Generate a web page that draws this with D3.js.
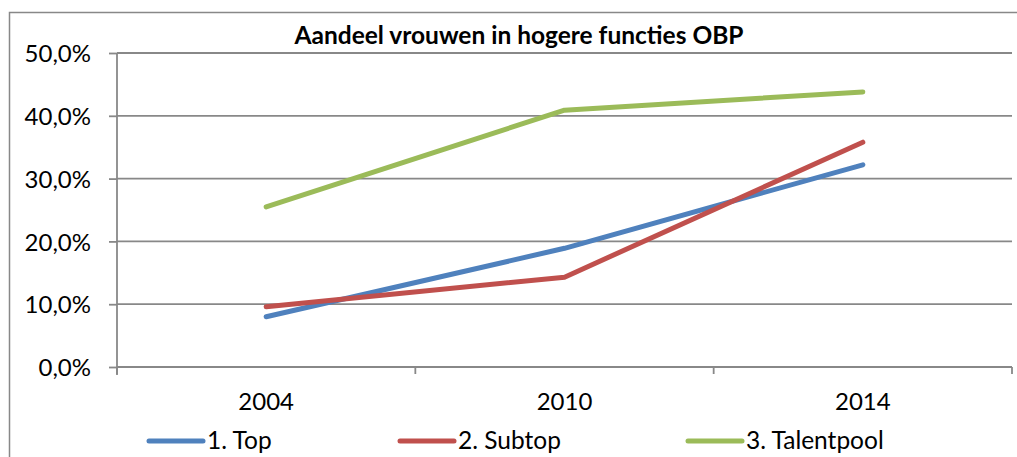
<!DOCTYPE html>
<html>
<head>
<meta charset="utf-8">
<script src="https://cdn.jsdelivr.net/npm/d3@7"></script>
<style>
  body { margin: 0; background: #fff; }
  svg text { font-family: Lato, "Open Sans", sans-serif; fill: #000; }
</style>
</head>
<body>
<svg id="chart" width="1017" height="457"></svg>
<script>
// Chart data
const years = ['2004', '2010', '2014'];
const seriesNames = ['1. Top', '2. Subtop', '3. Talentpool'];
const top1 = [8.0, 18.9, 32.2];
const subtop = [9.6, 14.3, 35.8];
const talentpool = [25.5, 40.9, 43.8];
const yTicks = [0, 10, 20, 30, 40, 50];
const colors = ['#4F81BD', '#C0504D', '#9BBB59'];

const series = [top1, subtop, talentpool].map((values, i) => ({
  name: seriesNames[i],
  color: colors[i],
  values: values.map((v, j) => ({ year: years[j], value: v })),
}));

const svg = d3.select('#chart');
const margin = { left: 117, right: 1012, top: 53, bottom: 367 };
const gridColor = '#888';

// outer chart border (runs past the photo on right and bottom)
svg.append('rect')
  .attr('x', 9.5).attr('y', 12.5)
  .attr('width', 1030).attr('height', 470)
  .attr('fill', 'none')
  .attr('stroke', gridColor)
  .attr('stroke-width', 1.5);

const x = d3.scaleBand().domain(years).range([margin.left, margin.right]);
const y = d3.scaleLinear().domain([0, 50]).range([margin.bottom, margin.top]);

// y axis
const yAxis = d3.axisLeft(y)
  .tickValues(yTicks)
  .tickSize(8)
  .tickFormat(d => d.toFixed(1).replace('.', ',') + '%');

const gy = svg.append('g')
  .attr('transform', `translate(${margin.left},0)`)
  .call(yAxis);
gy.select('.domain').attr('stroke', gridColor).attr('stroke-width', 1.8)
  .attr('d', `M0,${margin.top}V${margin.bottom + 8}`);
gy.selectAll('.tick line').attr('stroke', gridColor).attr('stroke-width', 1.8);
gy.selectAll('.tick text').attr('x', -26).attr('dy', '0.36em').attr('font-size', 24);

// gridlines
svg.append('g').selectAll('line')
  .data(yTicks.filter(d => d > 0))
  .join('line')
  .attr('x1', margin.left).attr('x2', margin.right)
  .attr('y1', d => y(d)).attr('y2', d => y(d))
  .attr('stroke', gridColor).attr('stroke-width', 1.8);

// x axis
const gx = svg.append('g')
  .attr('transform', `translate(0,${margin.bottom})`)
  .call(d3.axisBottom(x).tickSize(0));
gx.select('.domain').attr('stroke', gridColor).attr('stroke-width', 1.8)
  .attr('d', `M${margin.left},0H${margin.right}`);
gx.selectAll('.tick text').attr('dy', 0).attr('y', 43).attr('font-size', 24);

const bounds = years.map(d => x(d)).concat([margin.right]);
gx.selectAll('.boundary')
  .data(bounds)
  .join('line')
  .attr('x1', d => d).attr('x2', d => d)
  .attr('y1', 0).attr('y2', 7)
  .attr('stroke', gridColor).attr('stroke-width', 1.8);

// lines
const line = d3.line()
  .x(d => x(d.year) + x.bandwidth() / 2)
  .y(d => y(d.value));

svg.append('g').selectAll('path')
  .data(series)
  .join('path')
  .attr('d', d => line(d.values))
  .attr('fill', 'none')
  .attr('stroke', d => d.color)
  .attr('stroke-width', 5)
  .attr('stroke-linecap', 'round')
  .attr('stroke-linejoin', 'round');

// title
svg.append('text')
  .attr('x', 519).attr('y', 44)
  .attr('text-anchor', 'middle')
  .attr('font-size', 24.5)
  .attr('font-weight', 'bold')
  .text('Aandeel vrouwen in hogere functies OBP');

// legend
const legendX = [149, 400, 688];
const lg = svg.append('g').selectAll('g')
  .data(series)
  .join('g')
  .attr('transform', (d, i) => `translate(${legendX[i]},441)`);
lg.append('line')
  .attr('x1', 0).attr('x2', 54)
  .attr('stroke', d => d.color)
  .attr('stroke-width', 5)
  .attr('stroke-linecap', 'round');
lg.append('text')
  .attr('x', 58).attr('y', 8)
  .attr('font-size', 24.5)
  .text(d => d.name);
</script>
</body>
</html>
